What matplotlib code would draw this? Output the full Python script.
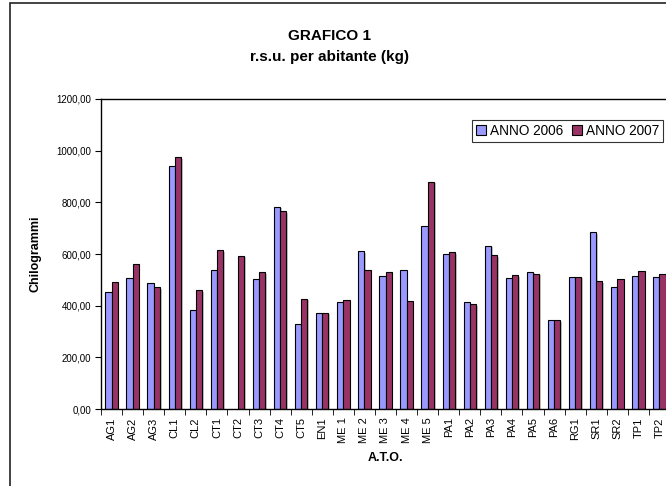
import numpy as np
import matplotlib
matplotlib.use('Agg')
import matplotlib.pyplot as plt
from matplotlib.ticker import FuncFormatter, MultipleLocator
from matplotlib.patches import Rectangle
import matplotlib.patheffects as pe

plt.rcParams['font.family'] = ['Liberation Sans', 'DejaVu Sans']

categories = ['AG1', 'AG2', 'AG3', 'CL1', 'CL2', 'CT1', 'CT2', 'CT3', 'CT4', 'CT5',
              'EN1', 'ME 1', 'ME 2', 'ME 3', 'ME 4', 'ME 5', 'PA1', 'PA2', 'PA3',
              'PA4', 'PA5', 'PA6', 'RG1', 'SR1', 'SR2', 'TP1', 'TP2']
anno_2006 = [452, 508, 486, 941, 383, 537, np.nan, 504, 783, 329,
             373, 414, 610, 516, 539, 710, 599, 414, 632,
             508, 532, 343, 510, 685, 472, 516, 512]
anno_2007 = [492, 560, 471, 974, 461, 614, 594, 529, 767, 427,
             373, 421, 539, 529, 418, 880, 608, 407, 595,
             519, 524, 343, 512, 496, 502, 533, 524]

fig = plt.figure(figsize=(6.66, 4.86), dpi=100)
# outer chart border (right/bottom edges are cut off in the original)
fig.patches.append(Rectangle((10/666, -0.1), 1.2, 1.1 - 3/486, transform=fig.transFigure,
                             fill=False, edgecolor='#222222', linewidth=1.2))

ax = fig.add_axes([101/666, 77/486, 569/666, 310/486])

x = np.arange(len(categories))
w = 0.295
shadow = [pe.SimplePatchShadow(offset=(1.2, -1.2), shadow_rgbFace='#888888', alpha=0.5), pe.Normal()]
ax.bar(x - w/2, anno_2006, w, color='#9999FF', edgecolor='black', linewidth=0.8,
       label='ANNO 2006', path_effects=shadow)
ax.bar(x + w/2, anno_2007, w, color='#993366', edgecolor='black', linewidth=0.8,
       label='ANNO 2007', path_effects=shadow)

ax.set_xlim(-0.5, len(categories) - 0.5)
ax.set_ylim(0, 1200)
ax.yaxis.set_major_locator(MultipleLocator(200))
ax.yaxis.set_major_formatter(FuncFormatter(lambda v, p: f"{v:.2f}".replace('.', ',')))
ax.set_xticks(x)
ax.set_xticklabels(categories, rotation=90, fontsize=8)
ax.set_xticks(np.arange(len(categories) + 1) - 0.5, minor=True)
ax.tick_params(axis='x', which='major', length=0, pad=6)
ax.tick_params(axis='x', which='minor', length=4, direction='out')
ax.tick_params(axis='y', labelsize=7, length=4, direction='out', pad=3)
for s in ['left', 'bottom', 'top']:
    ax.spines[s].set_linewidth(1.0)
ax.spines['right'].set_visible(False)

ax.set_ylabel('Chilogrammi', fontsize=9, fontweight='bold', labelpad=11)
ax.set_xlabel('A.T.O.', fontsize=9, fontweight='bold', labelpad=6)

fig.text(330/666, 1 - 36/486, 'GRAFICO 1', ha='center', va='center', fontsize=11, fontweight='bold')
fig.text(330/666, 1 - 57/486, 'r.s.u. per abitante (kg)', ha='center', va='center', fontsize=11, fontweight='bold')

leg = ax.legend(loc='upper left', bbox_to_anchor=(472/666, 1 - 120/486), bbox_transform=fig.transFigure,
                ncol=2, fontsize=9.8, frameon=True, fancybox=False, edgecolor='black',
                handlelength=0.75, handleheight=0.75, handletextpad=0.3, columnspacing=0.6,
                borderpad=0.3, borderaxespad=0)
leg.get_frame().set_linewidth(0.8)
for h in leg.legend_handles:
    h.set_path_effects([])

fig.savefig('out.png', dpi=100)
